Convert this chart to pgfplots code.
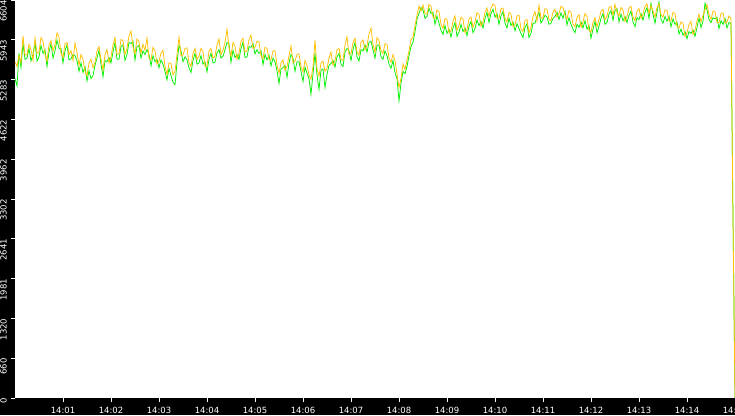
\documentclass[border=0pt]{standalone}
\usepackage{pgfplots}
\pgfplotsset{compat=1.18}
\usepackage{pgfplotstable}
\usepackage{fontspec}
\setmainfont{DejaVu Sans}
\definecolor{serA}{RGB}{0,240,0}
\definecolor{serB}{RGB}{255,192,0}

% t = seconds after 14:00:00, o = orange series, g = green series
\pgfplotstableread{
t o g
0 5580 5300
2.5 5500 5180
5 5680 5720
7.5 5560 5480
10 6010 5880
12.5 5690 5620
15 5700 5640
17.5 5870 5800
20 5780 5590
22.5 5600 5700
25 5970 5900
27.5 5720 5590
30 5740 5660
32.5 5980 5850
35 5920 5720
37.5 5700 5780
40 5590 5500
42.5 5860 5740
45 5930 5880
47.5 5760 5640
50 5860 5760
52.5 6060 5940
55 5990 5800
57.5 5720 5800
60 5650 5560
62.5 5880 5760
65 5900 5860
67.5 5700 5610
70 5760 5630
72.5 5600 5700
75 5890 5680
77.5 5740 5600
80 5520 5420
82.5 5700 5560
85 5620 5400
87.5 5420 5500
90 5350 5260
92.5 5560 5430
95 5620 5300
97.5 5480 5350
100 5570 5520
102.5 5760 5640
105 5830 5770
107.5 5620 5540
110 5440 5330
112.5 5700 5600
115 5780 5580
117.5 5560 5650
120 5660 5560
122.5 5860 5740
125 5980 5900
127.5 5700 5620
130 5710 5620
132.5 5950 5830
135 5930 5860
137.5 5700 5600
140 5800 5700
142.5 6010 5900
145 6090 5880
147.5 5820 5920
150 5710 5610
152.5 5960 5830
155 5910 5850
157.5 5720 5640
160 5870 5760
162.5 5770 5700
165 5970 5780
167.5 5640 5700
170 5610 5510
172.5 5820 5680
175 5760 5580
177.5 5540 5620
180 5590 5480
182.5 5720 5610
185 5770 5540
187.5 5500 5420
190 5370 5280
192.5 5560 5470
195 5550 5350
197.5 5360 5240
200 5420 5200
202.5 5700 5560
205 5990 5850
207.5 5680 5760
210 5690 5580
212.5 5800 5660
215 5810 5610
217.5 5560 5480
220 5500 5400
222.5 5720 5600
225 5800 5720
227.5 5620 5540
230 5670 5560
232.5 5800 5680
235 5750 5540
237.5 5500 5580
240 5510 5410
242.5 5760 5620
245 5800 5720
247.5 5640 5560
250 5670 5570
252.5 5860 5730
255 5960 5780
257.5 5700 5640
260 5770 5670
262.5 5900 5780
265 6120 5900
267.5 5820 5880
270 5670 5570
272.5 5900 5770
275 5840 5650
277.5 5620 5700
280 5720 5620
282.5 5920 5800
285 5970 5900
287.5 5740 5650
290 5760 5660
292.5 5950 5830
295 6020 5820
297.5 5800 5880
300 5820 5710
302.5 5920 5780
305 5910 5720
307.5 5680 5760
310 5630 5530
312.5 5820 5700
315 5800 5610
317.5 5620 5690
320 5610 5510
322.5 5760 5640
325 5760 5580
327.5 5520 5430
330 5390 5220
332.5 5560 5460
335 5610 5480
337.5 5440 5520
340 5500 5320
342.5 5680 5560
345 5840 5700
347.5 5560 5640
350 5590 5420
352.5 5700 5580
355 5710 5580
357.5 5500 5420
360 5410 5250
362.5 5600 5490
365 5520 5390
367.5 5360 5300
370 5290 5040
372.5 5500 5380
375 5940 5720
377.5 5460 5360
380 5340 5120
382.5 5560 5440
385 5590 5460
387.5 5420 5150
390 5470 5370
392.5 5640 5520
395 5740 5550
397.5 5520 5600
400 5600 5490
402.5 5780 5660
405 5800 5720
407.5 5620 5540
410 5600 5500
412.5 5860 5740
415 5990 5800
417.5 5700 5760
420 5710 5600
422.5 5900 5780
425 5970 5900
427.5 5740 5660
430 5690 5590
432.5 5900 5780
435 5940 5760
437.5 5780 5860
440 5850 5740
442.5 6040 5900
445 6140 5920
447.5 5860 5780
450 5740 5640
452.5 5980 5850
455 5930 5860
457.5 5760 5660
460 5720 5620
462.5 5880 5760
465 5870 5680
467.5 5640 5540
470 5570 5470
472.5 5700 5600
475 5600 5400
477.5 5380 5300
480 5150 4930
482.5 5300 5220
485 5540 5420
487.5 5450 5380
490 5610 5500
492.5 5760 5680
495 5950 5830
497.5 5980 5900
500 6180 6080
502.5 6350 6280
505 6500 6380
507.5 6420 6480
510 6520 6440
512.5 6380 6300
515 6370 6330
517.5 6530 6470
520 6500 6380
522.5 6320 6400
525 6300 6200
527.5 6440 6340
530 6410 6220
532.5 6200 6100
535 6130 6030
537.5 6300 6180
540 6280 6050
542.5 6060 6120
545 6090 5990
547.5 6250 6140
550 6340 6230
552.5 6100 6000
555 6180 6070
557.5 6320 6200
560 6290 6080
562.5 6060 6140
565 6110 6010
567.5 6290 6170
570 6320 6250
572.5 6150 6060
575 6240 6130
577.5 6390 6270
580 6370 6180
582.5 6170 6250
585 6240 6140
587.5 6400 6290
590 6470 6400
592.5 6330 6230
595 6470 6380
597.5 6540 6450
600 6510 6320
602.5 6300 6380
605 6300 6200
607.5 6460 6340
610 6470 6410
612.5 6300 6220
615 6240 6140
617.5 6400 6300
620 6370 6180
622.5 6160 6240
625 6190 6090
627.5 6340 6210
630 6350 6130
632.5 6120 6050
635 6080 5980
637.5 6260 6150
640 6280 6210
642.5 6060 5980
645 6150 6050
647.5 6330 6220
650 6410 6220
652.5 6250 6330
655 6520 6400
657.5 6300 6220
660 6310 6280
662.5 6460 6350
665 6450 6320
667.5 6280 6200
670 6260 6220
672.5 6400 6300
675 6450 6330
677.5 6320 6400
680 6380 6280
682.5 6500 6390
685 6480 6300
687.5 6350 6420
690 6290 6190
692.5 6430 6310
695 6400 6200
697.5 6200 6120
700 6160 6060
702.5 6320 6200
705 6360 6150
707.5 6150 6240
710 6240 6140
712.5 6380 6260
715 6330 6120
717.5 6100 6180
720 6070 5970
722.5 6230 6120
725 6310 6250
727.5 6160 6060
730 6280 6170
732.5 6420 6300
735 6450 6380
737.5 6280 6200
740 6330 6230
742.5 6480 6370
745 6500 6430
747.5 6350 6270
750 6530 6430
752.5 6400 6460
755 6340 6240
757.5 6480 6370
760 6440 6260
762.5 6250 6330
765 6330 6230
767.5 6470 6350
770 6500 6420
772.5 6320 6240
775 6260 6160
777.5 6420 6310
780 6460 6280
782.5 6300 6380
785 6370 6270
787.5 6500 6400
790 6540 6480
792.5 6380 6300
795 6510 6550
797.5 6420 6360
800 6320 6220
802.5 6480 6400
805 6540 6570
807.5 6360 6280
810 6320 6220
812.5 6440 6330
815 6430 6250
817.5 6260 6340
820 6260 6160
822.5 6400 6290
825 6380 6200
827.5 6160 6240
830 6140 6040
832.5 6240 6120
835 6220 6020
837.5 6000 6080
840 6060 5960
842.5 6200 6080
845 6250 6050
847.5 6030 6110
850 6100 6000
852.5 6260 6150
855 6370 6300
857.5 6240 6150
860 6350 6250
862.5 6440 6550
865 6530 6440
867.5 6360 6280
870 6280 6230
872.5 6420 6310
875 6410 6290
877.5 6230 6320
880 6230 6130
882.5 6380 6260
885 6390 6200
887.5 6220 6300
890 6240 6140
892.5 6340 6230
895 6290 6220
897.5 3000 3000
900 0 0
}\samples

\begin{document}
\begin{tikzpicture}
% black frame behind the tick labels
\fill[black] (-15pt,-17pt) rectangle (720pt,398pt);
\begin{axis}[
    at={(0,0)}, anchor=south west,
    scale only axis, width=720pt, height=398pt,
    xmin=0, xmax=900, ymin=0, ymax=6604,
    axis background/.style={fill=white},
    axis line style={draw=none},
    tick align=outside, xtick pos=bottom, ytick pos=left,
    major tick length=4pt,
    tick style={white, line width=0.8pt},
    xtick={60,120,180,240,300,360,420,480,540,600,660,720,780,840,900},
    xticklabels={14:01,14:02,14:03,14:04,14:05,14:06,14:07,14:08,14:09,14:10,14:11,14:12,14:13,14:14,14:15},
    ytick={0,660.4,1320.8,1981.2,2641.6,3302,3962.4,4622.8,5283.2,5943.6,6604},
    yticklabels={0,660,1320,1981,2641,3302,3962,4622,5283,5943,6604},
    /pgf/number format/assume math mode=true,
    ticklabel style={font=\fontsize{8.5}{9}\selectfont, text=white},
    xticklabel style={anchor=north, inner sep=0pt, yshift=-5pt},
    yticklabel style={xshift=-4pt, rotate=90, anchor=south east, inner sep=0pt},
]
\addplot[serA, line width=0.75pt] table[x=t, y=g] {\samples};
\addplot[serB, line width=0.75pt] table[x=t, y=o] {\samples};
\end{axis}
\pgfresetboundingbox
\useasboundingbox (-15pt,-17pt) rectangle (720pt,398pt);
\end{tikzpicture}
\end{document}
